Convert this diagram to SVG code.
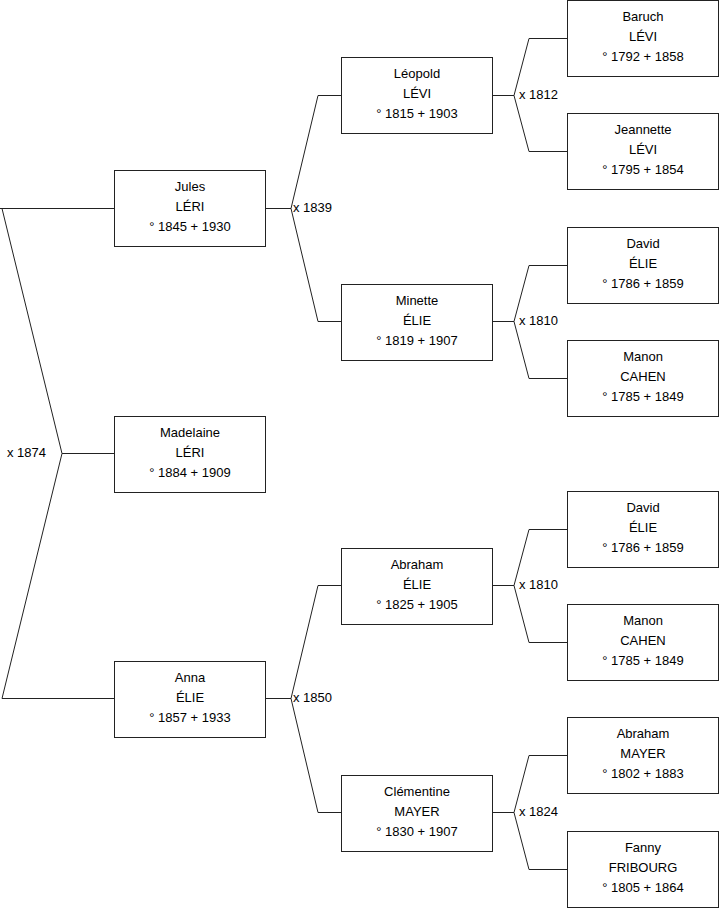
<svg xmlns="http://www.w3.org/2000/svg" width="719" height="908" viewBox="0 0 719 908">
<style>
rect.p{fill:#fff;stroke:#222;stroke-width:1}
text{font-family:"Liberation Sans",Arial,sans-serif;font-size:13px;fill:#000}
text.c{text-anchor:middle}
#connectors path{fill:none;stroke:#222;stroke-width:1}
</style>
<rect width="719" height="908" fill="#fff"/>
<g id="connectors">
<path d="M0,208.5H114.5M2,208.5L62,453.5L2,698.5H114.5M62,453.5H114.5"/>
<path d="M265.5,208.5H291L318,95.5H341.5M291,208.5L318,321.5H341.5"/>
<path d="M265.5,698.5H291L318,585.5H341.5M291,698.5L318,812.5H341.5"/>
<path d="M492.5,95.5H514L529,38.5H567.5M514,95.5L529,151.5H567.5"/>
<path d="M492.5,321.5H514L529,265.5H567.5M514,321.5L529,378.5H567.5"/>
<path d="M492.5,585.5H514L529,529.5H567.5M514,585.5L529,642.5H567.5"/>
<path d="M492.5,812.5H514L529,755.5H567.5M514,812.5L529,869.5H567.5"/>
<text x="7" y="457">x 1874</text>
<text x="293" y="212">x 1839</text>
<text x="293" y="702">x 1850</text>
<text x="519" y="99">x 1812</text>
<text x="519" y="325">x 1810</text>
<text x="519" y="589">x 1810</text>
<text x="519" y="816">x 1824</text>
</g>
<g id="jules"><rect class="p" x="114.5" y="170.5" width="151" height="76"/><text class="c" x="190" y="191">Jules</text><text class="c" x="190" y="211">LÉRI</text><text class="c" x="190" y="231">° 1845 + 1930</text></g>
<g id="madelaine"><rect class="p" x="114.5" y="416.5" width="151" height="76"/><text class="c" x="190" y="437">Madelaine</text><text class="c" x="190" y="457">LÉRI</text><text class="c" x="190" y="477">° 1884 + 1909</text></g>
<g id="anna"><rect class="p" x="114.5" y="661.5" width="151" height="76"/><text class="c" x="190" y="682">Anna</text><text class="c" x="190" y="702">ÉLIE</text><text class="c" x="190" y="722">° 1857 + 1933</text></g>
<g id="leopold"><rect class="p" x="341.5" y="57.5" width="151" height="76"/><text class="c" x="417" y="78">Léopold</text><text class="c" x="417" y="98">LÉVI</text><text class="c" x="417" y="118">° 1815 + 1903</text></g>
<g id="minette"><rect class="p" x="341.5" y="284.5" width="151" height="76"/><text class="c" x="417" y="305">Minette</text><text class="c" x="417" y="325">ÉLIE</text><text class="c" x="417" y="345">° 1819 + 1907</text></g>
<g id="abraham-elie"><rect class="p" x="341.5" y="548.5" width="151" height="76"/><text class="c" x="417" y="569">Abraham</text><text class="c" x="417" y="589">ÉLIE</text><text class="c" x="417" y="609">° 1825 + 1905</text></g>
<g id="clementine"><rect class="p" x="341.5" y="775.5" width="151" height="76"/><text class="c" x="417" y="796">Clémentine</text><text class="c" x="417" y="816">MAYER</text><text class="c" x="417" y="836">° 1830 + 1907</text></g>
<g id="baruch"><rect class="p" x="567.5" y="0.5" width="151" height="76"/><text class="c" x="643" y="21">Baruch</text><text class="c" x="643" y="41">LÉVI</text><text class="c" x="643" y="61">° 1792 + 1858</text></g>
<g id="jeannette"><rect class="p" x="567.5" y="113.5" width="151" height="76"/><text class="c" x="643" y="134">Jeannette</text><text class="c" x="643" y="154">LÉVI</text><text class="c" x="643" y="174">° 1795 + 1854</text></g>
<g id="david1"><rect class="p" x="567.5" y="227.5" width="151" height="76"/><text class="c" x="643" y="248">David</text><text class="c" x="643" y="268">ÉLIE</text><text class="c" x="643" y="288">° 1786 + 1859</text></g>
<g id="manon1"><rect class="p" x="567.5" y="340.5" width="151" height="76"/><text class="c" x="643" y="361">Manon</text><text class="c" x="643" y="381">CAHEN</text><text class="c" x="643" y="401">° 1785 + 1849</text></g>
<g id="david2"><rect class="p" x="567.5" y="491.5" width="151" height="76"/><text class="c" x="643" y="512">David</text><text class="c" x="643" y="532">ÉLIE</text><text class="c" x="643" y="552">° 1786 + 1859</text></g>
<g id="manon2"><rect class="p" x="567.5" y="604.5" width="151" height="76"/><text class="c" x="643" y="625">Manon</text><text class="c" x="643" y="645">CAHEN</text><text class="c" x="643" y="665">° 1785 + 1849</text></g>
<g id="abraham-mayer"><rect class="p" x="567.5" y="717.5" width="151" height="76"/><text class="c" x="643" y="738">Abraham</text><text class="c" x="643" y="758">MAYER</text><text class="c" x="643" y="778">° 1802 + 1883</text></g>
<g id="fanny"><rect class="p" x="567.5" y="831.5" width="151" height="76"/><text class="c" x="643" y="852">Fanny</text><text class="c" x="643" y="872">FRIBOURG</text><text class="c" x="643" y="892">° 1805 + 1864</text></g>
</svg>
